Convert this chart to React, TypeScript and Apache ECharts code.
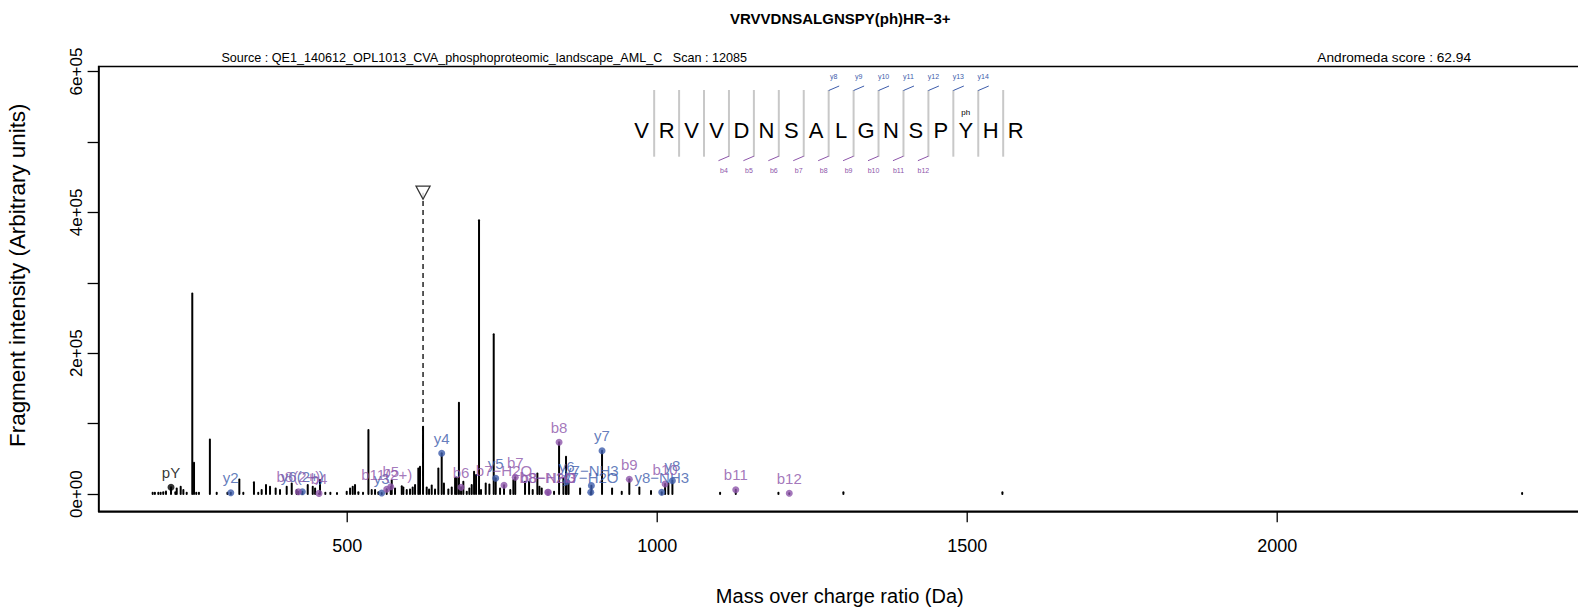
import React, { useEffect, useRef } from "react";
import * as echarts from "echarts";

const FONT = '"Liberation Sans", Arial, Helvetica, sans-serif';

const chartTitle = "VRVVDNSALGNSPY(ph)HR\u22123+";
const sourceText = "Source : QE1_140612_OPL1013_CVA_phosphoproteomic_landscape_AML_C   Scan : 12085";
const scoreText = "Andromeda score : 62.94";
const xAxisTitle = "Mass over charge ratio (Da)";
const yAxisTitle = "Fragment intensity (Arbitrary units)";

const X_MIN = 99;
const X_MAX = 2490;
const Y_MIN = -24420;
const Y_MAX = 607270;

const xTicks = [500, 1000, 1500, 2000];
const yTicks = [0, 100000, 200000, 300000, 400000, 500000, 600000];
const yLabelTicks = [0, 200000, 400000, 600000];
const yLabelTexts = ["0e+00", "2e+05", "4e+05", "6e+05"];

const peakMz = [
  186.2, 189.8, 195.3, 199.0, 203.3, 207.7, 215.8, 222.8, 225.0, 231.4,
  235.7, 241.1, 250.1, 252.9, 256.5, 260.8, 278.5, 289.5, 306.8, 312.2,
  326.0, 332.4, 349.6, 356.5, 362.0, 369.0, 375.5, 384.6, 391.6, 402.4,
  410.5, 418.5, 421.2, 427.6, 436.3, 444.4, 448.2, 454.5, 456.1, 464.7,
  472.8, 483.5, 499.2, 504.6, 508.9, 512.6, 518.0, 525.5, 534.2, 539.5,
  544.9, 550.3, 555.6, 563.7, 570.2, 571.8, 577.1, 588.0, 590.5, 596.0,
  601.3, 605.6, 609.4, 614.7, 617.4, 622.3, 628.2, 632.0, 636.3, 641.6,
  647.0, 652.4, 656.0, 663.1, 668.6, 674.0, 676.6, 680.2, 683.6, 687.3,
  692.8, 697.0, 700.8, 704.6, 707.8, 712.6, 715.8, 723.4, 729.3, 736.3,
  739.5, 746.5, 752.9, 763.0, 768.0, 771.0, 786.8, 793.3, 799.2, 806.7,
  810.0, 813.7, 823.4, 824.4, 833.6, 841.7, 848.7, 852.9, 853.8, 857.0,
  875.6, 892.8, 893.8, 911.0, 927.2, 942.8, 955.0, 971.2, 990.0, 1007.3,
  1012.7, 1018.0, 1024.5, 1101.4, 1126.7, 1195.5, 1213.0, 1300.3, 1556.8, 2395.0,
];
const peakIntensity = [
  1900, 1900, 1900, 2000, 2800, 3800, 9600, 2800, 8000, 10400,
  5700, 1900, 285000, 44600, 1900, 1900, 77500, 1900, 1900, 2000,
  20800, 2000, 17000, 2000, 5700, 12800, 10400, 8000, 5700, 10400,
  15100, 5700, 3300, 3300, 12800, 10400, 8000, 1000, 19900, 2000,
  2000, 1500, 3300, 8000, 10400, 12800, 2500, 2000, 91000, 5700,
  5700, 2800, 1500, 6800, 10500, 19400, 8000, 11300, 9500, 5700,
  6600, 9500, 12800, 36400, 39000, 95700, 9500, 6600, 12300, 6600,
  36400, 57900, 15000, 6600, 9500, 23000, 23600, 129700, 9600, 17600,
  3300, 8000, 12800, 31700, 27000, 389000, 5700, 15100, 13700, 227000,
  22400, 8000, 12500, 5700, 19900, 23800, 17600, 17600, 5700, 29300,
  10400, 8000, 2500, 2500, 3300, 73500, 22400, 53100, 17600, 15100,
  8000, 2500, 12000, 61600, 8000, 3300, 21000, 9500, 4300, 2500,
  14300, 15100, 19000, 2000, 6300, 2000, 1100, 2500, 2500, 1500,
];

const yIonNames = ["y2", "y6(2+)", "y3", "y4", "y5", "y6", "y7\u2212H2O", "y7\u2212NH3", "y7", "y8\u2212NH3", "y8"];
const yIonMz = [312.2, 427.6, 555.6, 652.4, 739.5, 853.8, 892.8, 893.8, 911.0, 1007.3, 1024.5];
const yIonIntensity = [2000, 3300, 1500, 57900, 22400, 17600, 2500, 12000, 61600, 2500, 19000];

const bIonNames = ["b8(2+)", "b4", "b11(2+)", "b5", "b6", "b7\u2212H2O", "b7", "b8\u2212H2O", "b8\u2212NH3", "b8", "b9", "b10", "b11", "b12"];
const bIonMz = [421.2, 454.5, 563.7, 570.2, 683.6, 752.9, 771.0, 823.4, 824.4, 841.7, 955.0, 1012.7, 1126.7, 1213.0];
const bIonIntensity = [3300, 1000, 6800, 10500, 9600, 12500, 23800, 2500, 2500, 73500, 21000, 14300, 6300, 1100];

const otherIonNames = ["pY"];
const otherIonMz = [215.8];
const otherIonIntensity = [9600];

const precursorMz = 622.3;
const precursorMarker = 428000;

const sequence = ["V", "R", "V", "V", "D", "N", "S", "A", "L", "G", "N", "S", "P", "Y", "H", "R"];
const seqYIonLabels = ["y8", "y9", "y10", "y11", "y12", "y13", "y14"];
const seqYIonCuts = [7, 8, 9, 10, 11, 12, 13];
const seqBIonLabels = ["b4", "b5", "b6", "b7", "b8", "b9", "b10", "b11", "b12"];
const seqBIonCuts = [3, 4, 5, 6, 7, 8, 9, 10, 11];
const phosphoSite = 13;
const phosphoLabel = "ph";

const BLUE = "#3D5CAB";
const PURPLE = "#8D55AA";

function buildGraphic() {
  const els: any[] = [];
  const x0 = 641.7;
  const step = 24.93;
  const yMid = 130;
  const sepTop = 90;
  const sepBot = 156.7;
  els.push({ type: "text", x: 840.3, y: 18.5, style: { text: chartTitle, font: `bold 15px ${FONT}`, fill: "#000", align: "center", verticalAlign: "middle" } });
  els.push({ type: "text", x: 221.4, y: 57.6, style: { text: sourceText, font: `12.6px ${FONT}`, fill: "#000", align: "left", verticalAlign: "middle" } });
  els.push({ type: "text", x: 1471, y: 57.6, style: { text: scoreText, font: `13.7px ${FONT}`, fill: "#000", align: "right", verticalAlign: "middle" } });
  els.push({ type: "text", x: 17.5, y: 275.2, rotation: Math.PI / 2, style: { text: yAxisTitle, font: `22.4px ${FONT}`, fill: "#000", align: "center", verticalAlign: "middle" } });
  sequence.forEach((aa, i) => {
    els.push({ type: "text", x: x0 + step * i, y: yMid, style: { text: aa, font: `22px ${FONT}`, fill: "#000", align: "center", verticalAlign: "middle" } });
    if (i < sequence.length - 1) {
      const sx = x0 + step * (i + 0.5);
      els.push({ type: "line", shape: { x1: sx, y1: sepTop, x2: sx, y2: sepBot }, style: { stroke: "#C8C8C8", lineWidth: 2 } });
    }
  });
  seqYIonCuts.forEach((k, j) => {
    const sx = x0 + step * (k + 0.5);
    els.push({ type: "line", shape: { x1: sx, y1: sepTop + 0.5, x2: sx + 10.5, y2: sepTop - 4 }, style: { stroke: BLUE, lineWidth: 1 } });
    els.push({ type: "text", x: sx + 5, y: 76, style: { text: seqYIonLabels[j], font: `7px ${FONT}`, fill: BLUE, align: "center", verticalAlign: "middle" } });
  });
  seqBIonCuts.forEach((k, j) => {
    const sx = x0 + step * (k + 0.5);
    els.push({ type: "line", shape: { x1: sx, y1: sepBot - 0.5, x2: sx - 10.5, y2: sepBot + 4 }, style: { stroke: PURPLE, lineWidth: 1 } });
    els.push({ type: "text", x: sx - 5, y: 170, style: { text: seqBIonLabels[j], font: `7px ${FONT}`, fill: PURPLE, align: "center", verticalAlign: "middle" } });
  });
  els.push({ type: "text", x: x0 + step * phosphoSite, y: 112.7, style: { text: phosphoLabel, font: `8px ${FONT}`, fill: "#000", align: "center", verticalAlign: "middle" } });
  return els;
}

function ionSeries(names: string[], mz: number[], inten: number[], color: string) {
  return {
    type: "scatter",
    symbol: "circle",
    symbolSize: 7,
    z: 5,
    itemStyle: { color },
    label: {
      show: true,
      position: "top",
      distance: 4,
      formatter: "{b}",
      color,
      fontSize: 15,
      fontFamily: FONT,
    },
    data: names.map((n, i) => ({ name: n, value: [mz[i], inten[i]] })),
  };
}

export default function App() {
  const ref = useRef<HTMLDivElement>(null);
  useEffect(() => {
    if (!ref.current) return;
    const chart = echarts.init(ref.current, null, { renderer: "svg" });
    const option: any = {
      animation: false,
      backgroundColor: "#fff",
      textStyle: { fontFamily: FONT },
      grid: {
        left: 98.6,
        top: 66.4,
        width: 1482.4,
        height: 444.9,
        show: true,
        borderColor: "#000",
        borderWidth: 1.5,
        backgroundColor: "transparent",
        containLabel: false,
        outerBoundsMode: "none",
      },
      xAxis: {
        type: "value",
        min: X_MIN,
        max: X_MAX,
        axisLine: { show: true, onZero: false, lineStyle: { color: "#000", width: 1.5 } },
        splitLine: { show: false },
        axisTick: { show: false },
        axisLabel: {
          customValues: xTicks,
          fontSize: 18,
          color: "#000",
          margin: 26,
          fontFamily: FONT,
          formatter: (v: number) => String(v),
        },
        name: xAxisTitle,
        nameLocation: "middle",
        nameGap: 75,
        nameTextStyle: { fontSize: 20, color: "#000", fontFamily: FONT },
      },
      yAxis: {
        type: "value",
        min: Y_MIN,
        max: Y_MAX,
        axisLine: { show: true, onZero: false, lineStyle: { color: "#000", width: 1.5 } },
        splitLine: { show: false },
        axisTick: { show: true, inside: false, customValues: yTicks, length: 11, lineStyle: { color: "#000", width: 1.3 } },
        axisLabel: {
          customValues: yLabelTicks,
          rotate: 90,
          fontSize: 17,
          color: "#000",
          margin: 14,
          fontFamily: FONT,
          formatter: (v: number) => {
            const idx = yLabelTicks.indexOf(v);
            return idx >= 0 ? yLabelTexts[idx] : "";
          },
        },
      },
      graphic: buildGraphic(),
      series: [
        {
          type: "custom",
          z: 6,
          clip: false,
          silent: true,
          encode: { x: 0, y: 1 },
          data: xTicks.map((v) => [v, Y_MIN]),
          renderItem: (params: any, api: any) => {
            const p = api.coord([api.value(0), api.value(1)]);
            return {
              type: "line",
              shape: { x1: p[0], y1: p[1], x2: p[0], y2: p[1] + 11 },
              style: { stroke: "#000", lineWidth: 1.3 },
            };
          },
        },
        {
          type: "custom",
          z: 2,
          encode: { x: 0, y: 1 },
          data: peakMz.map((m, i) => [m, peakIntensity[i]]),
          renderItem: (params: any, api: any) => {
            const x = api.value(0);
            const y = api.value(1);
            const p0 = api.coord([x, 0]);
            const p1 = api.coord([x, y]);
            return {
              type: "line",
              shape: { x1: p0[0], y1: p0[1], x2: p1[0], y2: p1[1] },
              style: { stroke: "#000", lineWidth: 2, lineCap: "round" },
            };
          },
        },
        {
          type: "line",
          z: 3,
          symbol: "none",
          lineStyle: { color: "#000", width: 1.3, type: [5, 4] },
          data: [[precursorMz, 0], [precursorMz, precursorMarker]],
        },
        {
          type: "scatter",
          z: 4,
          symbol: "triangle",
          symbolRotate: 180,
          symbolSize: [14, 13],
          itemStyle: { color: "#fff", borderColor: "#000", borderWidth: 1.3 },
          data: [[precursorMz, precursorMarker]],
        },
        ionSeries(otherIonNames, otherIonMz, otherIonIntensity, "#000"),
        ionSeries(yIonNames, yIonMz, yIonIntensity, BLUE),
        ionSeries(bIonNames, bIonMz, bIonIntensity, PURPLE),
      ],
    };
    chart.setOption(option);
    return () => chart.dispose();
  }, []);
  return (
    <div
      ref={ref}
      style={{ position: "fixed", left: 0, top: 0, width: 1578, height: 607, background: "#fff" }}
    />
  );
}
